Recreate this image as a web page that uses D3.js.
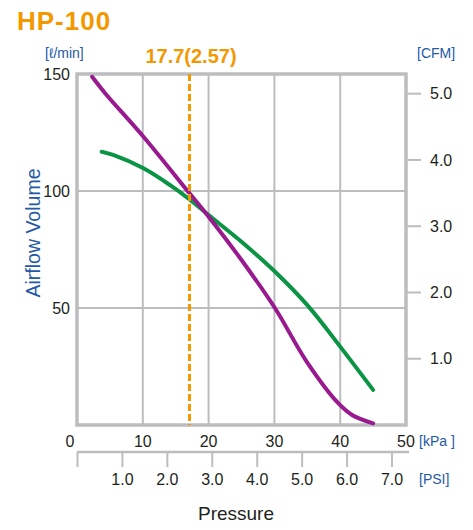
<!DOCTYPE html>
<html><head><meta charset="utf-8">
<script src="https://cdn.jsdelivr.net/npm/d3@7"></script>
<style>body{margin:0;background:#fff}svg{display:block}text{font-family:"Liberation Sans",Arial,sans-serif}</style>
</head><body><svg id="c" width="473" height="530"></svg>
<script>
const title = "HP-100";
const markerLabel = "17.7(2.57)";
const markerKPa = 17.1;
const kpaTicks = [0,10,20,30,40,50];
const psiTicks = [0,1,2,3,4,5,6,7];
const flowTicks = [50,100,150];
const cfmTicks = [1,2,3,4,5];
const purpleKPa = [2.3,4.3,10.1,17.1,20,25,30.1,34.9,39.7,41.8,45];
const purpleFlow = [148.8,141.7,123.2,99,89,70.5,49.9,27.1,9.3,4.3,0.7];
const greenKPa = [3.75,5.5,10.1,14.1,17.2,20,25,30.1,35.2,40,45];
const greenFlow = [116.8,115.4,109.7,102.6,96.2,89.7,78.3,65.5,50.6,33.5,15.0];

const svg = d3.select("#c");
const x = d3.scaleLinear().domain([0,50]).range([77,406]);
const y = d3.scaleLinear().domain([0,150]).range([425,74]);
const yc = d3.scaleLinear().domain([0,150/28.317]).range([425,74]);
const xp = d3.scaleLinear().domain([0,7]).range([77.5,392]);
const gridC = "#bdbdc0", blue = "#2459a6", txt = "#231f20", orange = "#f39800";

// grid
svg.append("g").selectAll("line").data([10,20,30,40]).join("line")
  .attr("x1",d=>x(d)).attr("x2",d=>x(d)).attr("y1",y(150)).attr("y2",y(0))
  .attr("stroke",gridC).attr("stroke-width",2);
svg.append("g").selectAll("line").data([50,100]).join("line")
  .attr("x1",x(0)).attr("x2",x(50)).attr("y1",d=>y(d)).attr("y2",d=>y(d))
  .attr("stroke",gridC).attr("stroke-width",2);
// frame
svg.append("rect").attr("x",x(0)).attr("y",y(150)).attr("width",x(50)-x(0)).attr("height",y(0)-y(150))
  .attr("fill","none").attr("stroke",gridC).attr("stroke-width",3.5);

// right CFM ticks
svg.append("g").selectAll("line").data(cfmTicks).join("line")
  .attr("x1",x(50)+1).attr("x2",x(50)+15).attr("y1",d=>yc(d)).attr("y2",d=>yc(d))
  .attr("stroke",gridC).attr("stroke-width",2);
svg.append("g").selectAll("text").data(cfmTicks).join("text")
  .attr("x",430).attr("y",d=>yc(d)).attr("dy","0.36em").attr("font-size",16).attr("fill",txt)
  .text(d=>d.toFixed(1));
svg.append("text").attr("x",417).attr("y",58).attr("font-size",14).attr("fill",blue).text("[CFM]");

// left ticks
svg.append("g").selectAll("text").data(flowTicks).join("text")
  .attr("x",70).attr("y",d=>y(d)).attr("dy","0.36em").attr("text-anchor","end").attr("font-size",16).attr("fill",txt)
  .text(d=>d);
svg.append("text").attr("x",45).attr("y",58).attr("font-size",14).attr("fill",blue).text("[ℓ/min]");
svg.append("text").attr("transform","translate(40,233) rotate(-90)").attr("text-anchor","middle")
  .attr("font-size",19.5).attr("fill",blue).text("Airflow Volume");

// kPa labels
svg.append("g").selectAll("text").data(kpaTicks).join("text")
  .attr("x",d=>d===0?70:x(d)).attr("y",441).attr("dy","0.36em").attr("text-anchor","middle")
  .attr("font-size",16).attr("fill",txt).text(d=>d);
svg.append("text").attr("x",419).attr("y",446).attr("font-size",14).attr("fill",blue).text("[kPa ]");

// PSI axis
svg.append("line").attr("x1",x(0)).attr("x2",409).attr("y1",452).attr("y2",452).attr("stroke",gridC).attr("stroke-width",2.5);
svg.append("g").selectAll("line").data(psiTicks).join("line")
  .attr("x1",d=>xp(d)).attr("x2",d=>xp(d)).attr("y1",452).attr("y2",467)
  .attr("stroke",gridC).attr("stroke-width",2);
svg.append("g").selectAll("text").data(psiTicks.filter(d=>d>0)).join("text")
  .attr("x",d=>xp(d)).attr("y",479).attr("dy","0.36em").attr("text-anchor","middle")
  .attr("font-size",16).attr("fill",txt).text(d=>d.toFixed(1));
svg.append("text").attr("x",419).attr("y",484).attr("font-size",14).attr("fill",blue).text("[PSI]");
svg.append("text").attr("x",236).attr("y",520).attr("text-anchor","middle").attr("font-size",19).attr("fill",txt).text("Pressure");

// curves
const line = d3.line().x(d=>x(d[0])).y(d=>y(d[1])).curve(d3.curveCatmullRom);
svg.append("path").datum(greenKPa.map((k,i)=>[k,greenFlow[i]])).attr("d",line)
  .attr("fill","none").attr("stroke","#0a9444").attr("stroke-width",4).attr("stroke-linecap","round");
svg.append("path").datum(purpleKPa.map((k,i)=>[k,purpleFlow[i]])).attr("d",line)
  .attr("fill","none").attr("stroke","#981a8e").attr("stroke-width",4).attr("stroke-linecap","round");

// marker
svg.append("line").attr("x1",x(markerKPa)).attr("x2",x(markerKPa)).attr("y1",y(150)).attr("y2",y(0))
  .attr("stroke",orange).attr("stroke-width",3).attr("stroke-dasharray","7,3");
svg.append("text").attr("x",191).attr("y",63).attr("text-anchor","middle").attr("font-size",20).attr("font-weight","bold")
  .attr("fill",orange).text(markerLabel);

svg.append("text").attr("x",17).attr("y",30).attr("font-size",26).attr("letter-spacing",1).attr("font-weight","bold").attr("fill",orange).text(title);
</script></body></html>
